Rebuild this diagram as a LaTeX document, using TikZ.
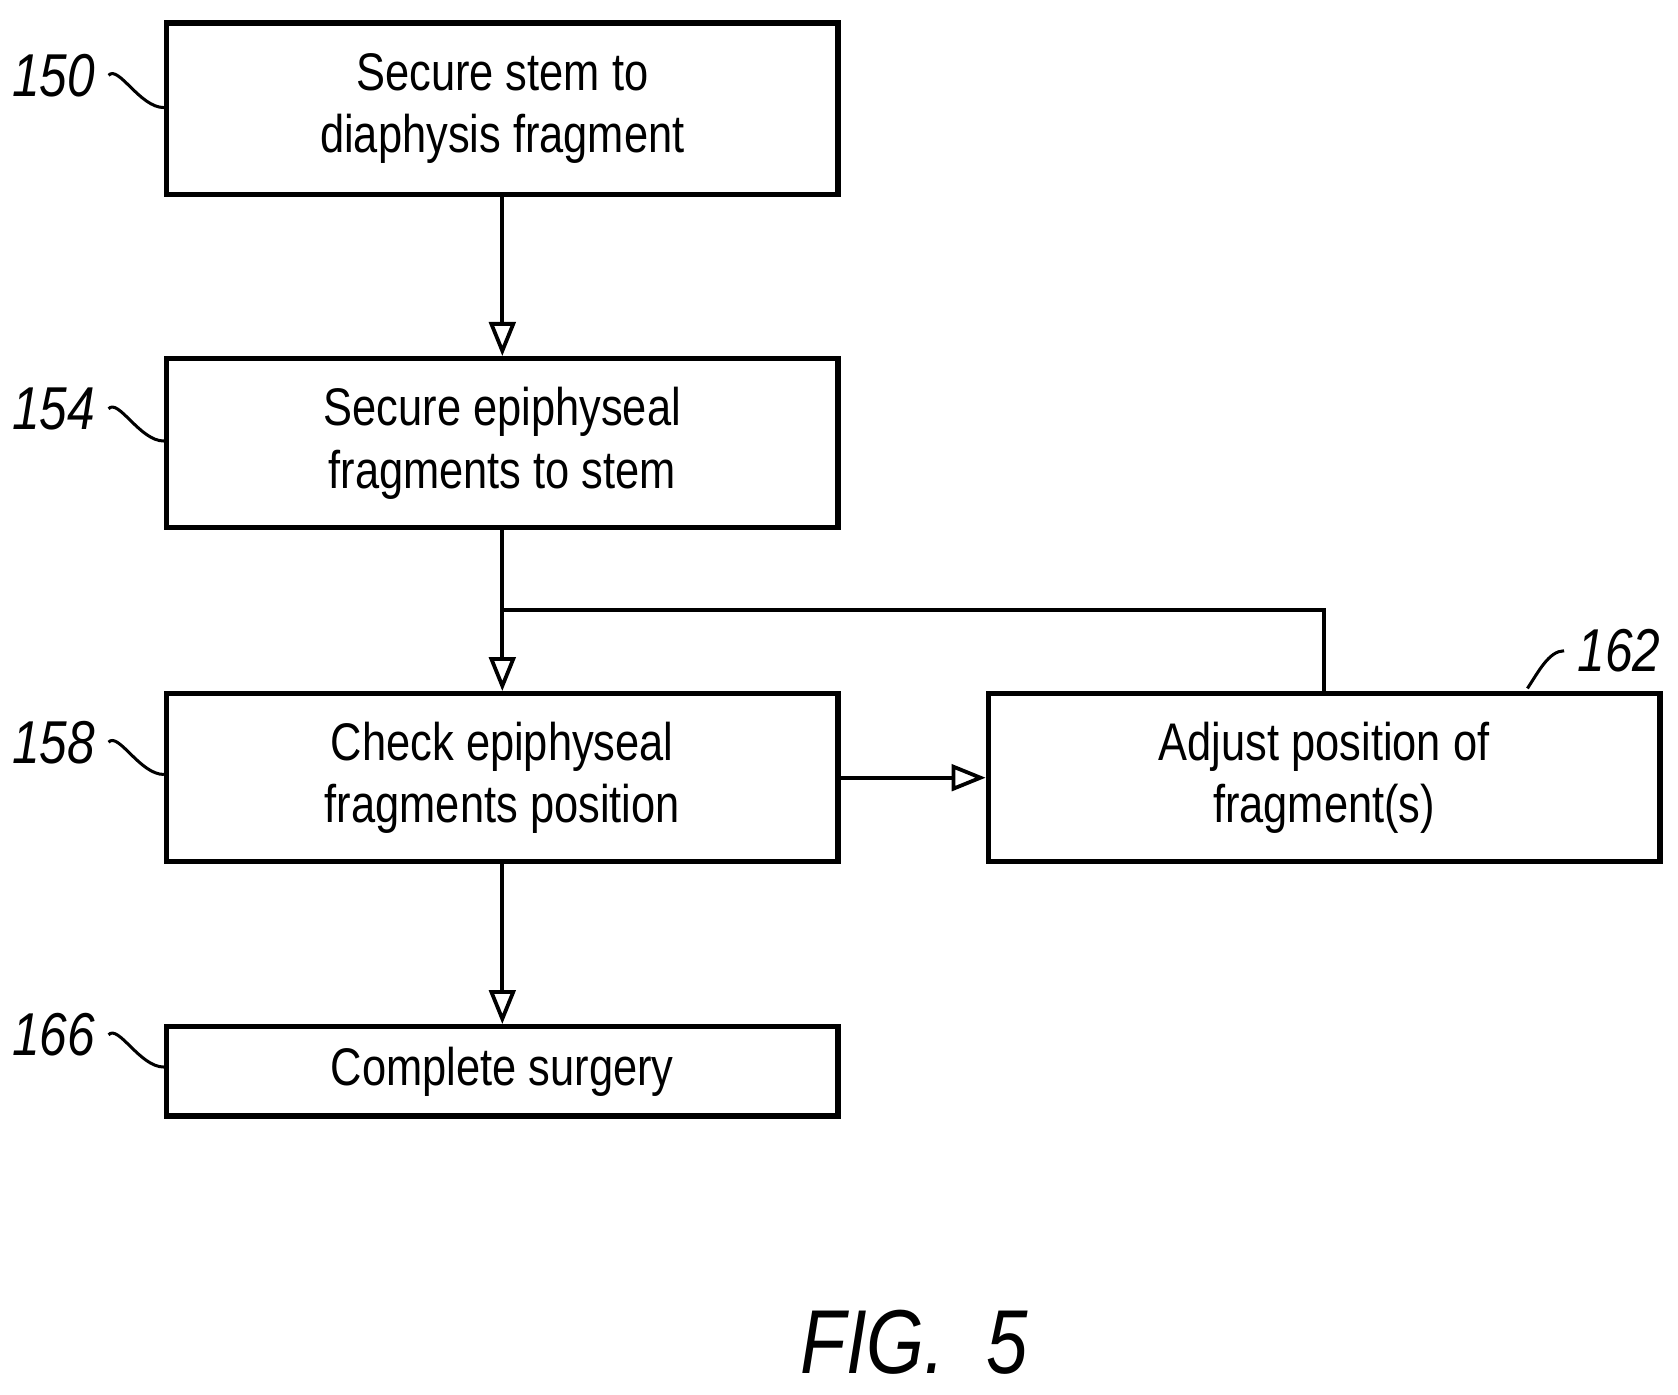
\documentclass[tikz,border=0pt]{standalone}
\usepackage{fontspec}
\setmainfont[FakeStretch=0.82]{Liberation Sans}
\usetikzlibrary{calc,positioning,arrows.meta}

\begin{document}
\begin{tikzpicture}[x=0.01cm,y=-0.01cm,
  stepbox/.style={draw,line width=1.4pt,minimum width=6.24cm,align=center,
    font=\fontsize{14}{16.5}\selectfont},
  flow/.style={-{Triangle[open,length=9pt,width=7pt]},line width=1pt},
  tag/.style={font=\fontsize{16}{18}\selectfont\itshape}]
  \useasboundingbox (0,0) rectangle (1560,1296);

  \node [stepbox,minimum height=1.59cm] (secure) at (467,101) {Secure stem to\\diaphysis fragment};
  \node [stepbox,minimum height=1.57cm] (epi) at (467,412) {Secure epiphyseal\\fragments to stem};
  \node [stepbox,minimum height=1.56cm] (check) at (467,723) {Check epiphyseal\\fragments position};
  \node [stepbox,minimum height=1.56cm] (adjust) at (1231,723) {Adjust position of\\fragment(s)};
  \node [stepbox,minimum height=0.83cm] (done) at (467,996) {Complete surgery};

  \coordinate (join) at (467,567);
  \draw [flow] (secure) -- (epi);
  \draw [line width=1pt] (epi) -- (join);
  \draw [flow] (join) -- (check);
  \draw [flow] (check) -- (adjust);
  \draw [line width=1pt] (adjust.north) |- (join);
  \draw [flow] (check) -- (done);

  % reference numerals
  \node [tag] (n150) at (50,70) {150};
  \node [tag] (n154) at (50,380) {154};
  \node [tag] (n158) at (50,690) {158};
  \node [tag] (n166) at (50,962) {166};
  \node [tag] (n162) at (1505,605) {162};
  \draw [line width=0.8pt] (n150.east) .. controls (110,60) and (130,100) .. (secure.west |- 0,100);
  \draw [line width=0.8pt] (n154.east) .. controls (110,370) and (130,410) .. (epi.west |- 0,410);
  \draw [line width=0.8pt] (n158.east) .. controls (110,680) and (130,720) .. (check.west |- 0,720);
  \draw [line width=0.8pt] (n166.east) .. controls (110,952) and (130,992) .. (done.west |- 0,992);
  \draw [line width=0.8pt] (n162.west) .. controls (1440,605) and (1430,625) .. (1420,640);

  \node [font=\fontsize{24}{26}\selectfont\itshape] (fig) at (850,1248) {FIG.~~5};
\end{tikzpicture}
\end{document}
